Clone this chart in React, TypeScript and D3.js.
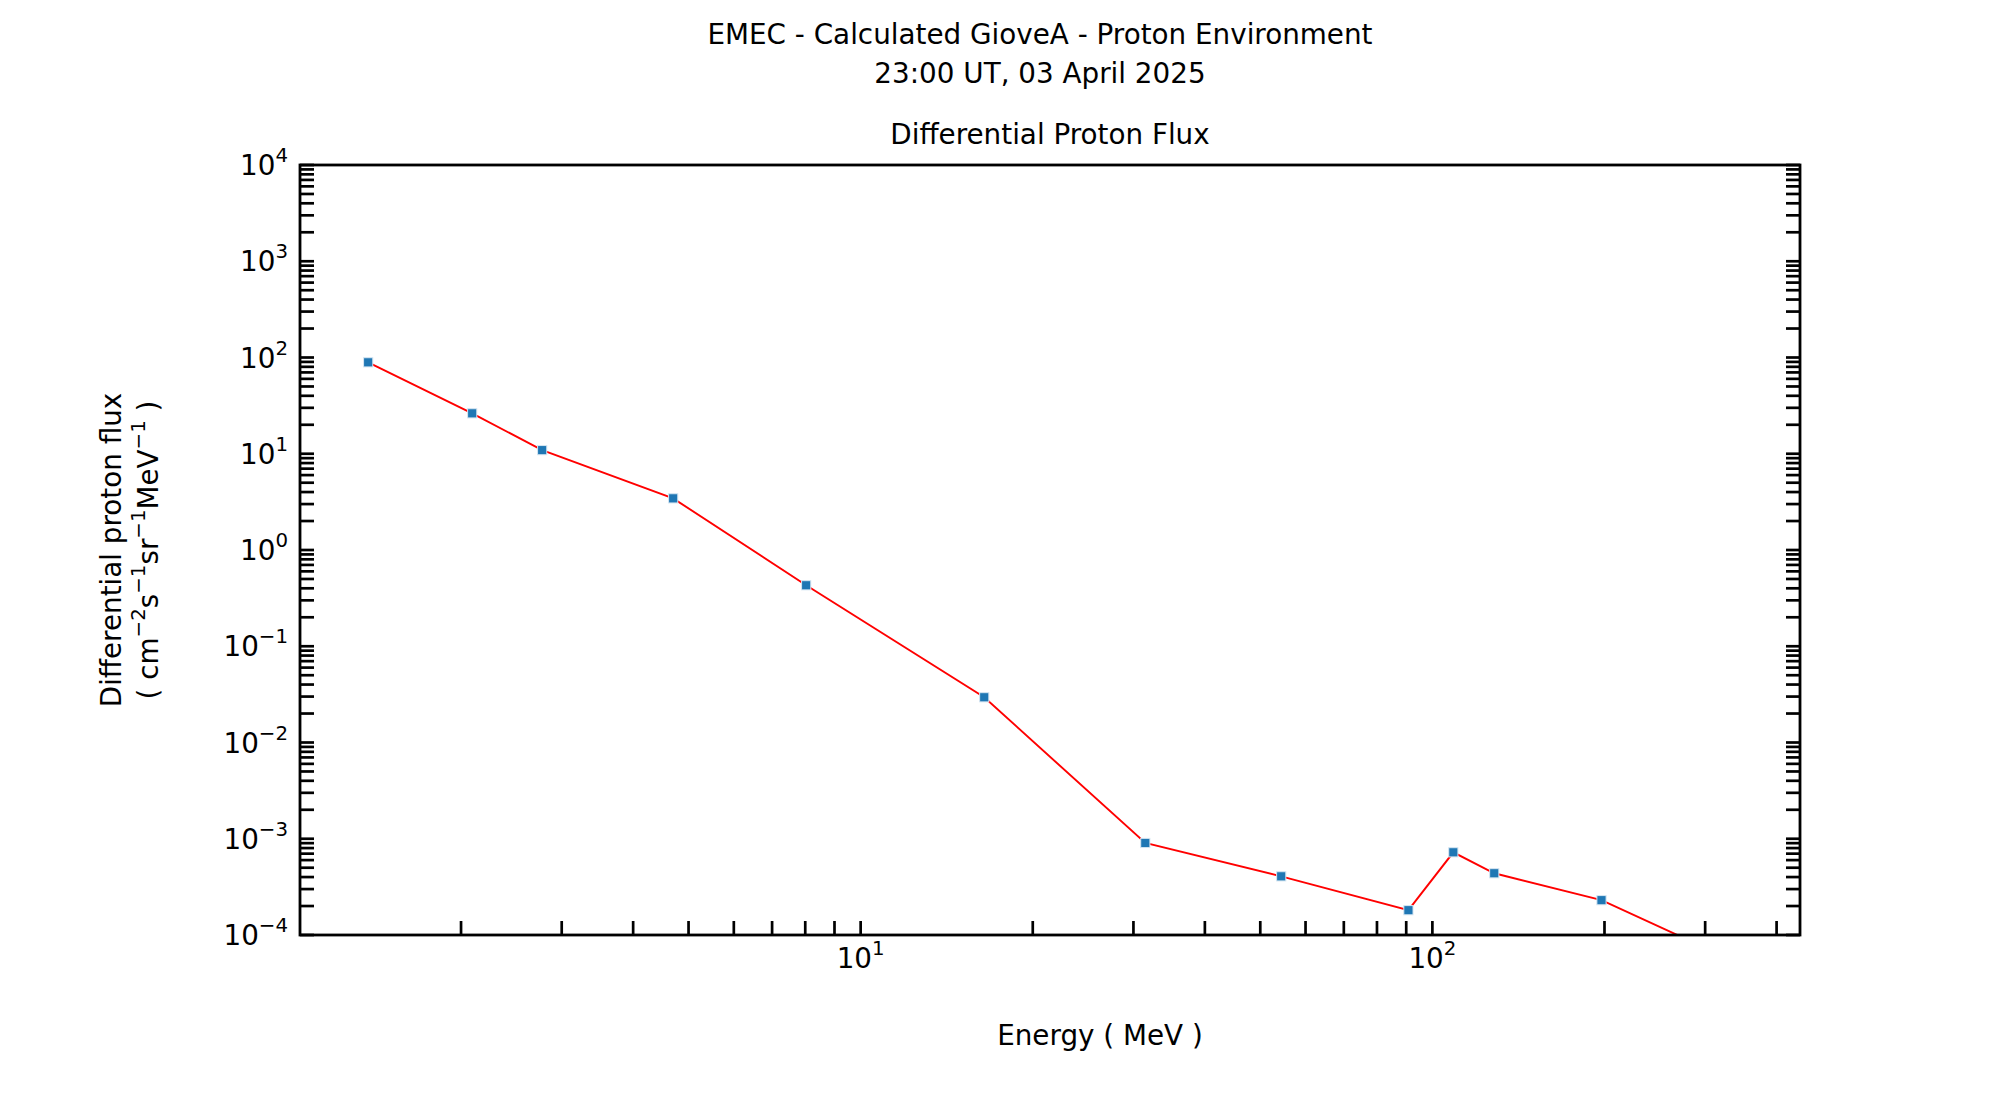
import React, { useEffect, useRef } from 'react';
import * as d3 from 'd3';

// Datos (energía en MeV, flujo diferencial)
const energies = [1.376, 2.092, 2.773, 4.70, 8.03, 16.45, 31.47, 54.4, 90.8, 108.8, 128.3, 197.6, 334];
const fluxes = [89.1, 26.3, 10.9, 3.44, 0.430, 0.0295, 9.04e-4, 4.07e-4, 1.81e-4, 7.23e-4, 4.38e-4, 2.30e-4, 5.5e-5];

// Etiquetas de los ejes (exponentes de 10)
const xTickExps = [1, 2];
const yTickExps = [-4, -3, -2, -1, 0, 1, 2, 3, 4];

const titleLines = ['EMEC - Calculated GioveA - Proton Environment', '23:00 UT, 03 April 2025'];
const axesTitle = 'Differential Proton Flux';
const xLabel = 'Energy ( MeV )';

const FONT = '"DejaVu Sans", "Liberation Sans", sans-serif';

const App: React.FC = () => {
    const ref = useRef<SVGSVGElement>(null);

    useEffect(() => {
        const width = 2000;
        const height = 1100;
        const left = 300;
        const right = 1800;
        const top = 165;
        const bottom = 935;
        const fs = 27.8;
        const supFs = 19.8;
        const tickLen = 14;

        const svg = d3.select(ref.current).attr('width', width).attr('height', height);
        svg.selectAll('*').remove();
        svg.append('rect').attr('width', width).attr('height', height).attr('fill', '#fff');

        // dominio x como matplotlib: 5% de margen en escala log
        const lo = Math.log10(d3.min(energies) || 1);
        const hi = Math.log10(d3.max(energies) || 10);
        const m = (hi - lo) * 0.05;
        const x = d3.scaleLog().domain([10 ** (lo - m), 10 ** (hi + m)]).range([left, right]);
        const y = d3.scaleLog().domain([1e-4, 1e4]).range([bottom, top]);

        svg.append('clipPath').attr('id', 'plotclip')
            .append('rect').attr('x', left).attr('y', top).attr('width', right - left).attr('height', bottom - top);

        // ticks menores y mayores
        const minors = (dom: number[]) => {
            const out: number[] = [];
            const a = Math.floor(Math.log10(dom[0]));
            const b = Math.ceil(Math.log10(dom[1]));
            for (let e = a; e <= b; e++) {
                for (let k = 1; k <= 9; k++) {
                    const v = k * 10 ** e;
                    if (v >= dom[0] * 0.9999 && v <= dom[1] * 1.0001) out.push(v);
                }
            }
            return out;
        };
        const xd = x.domain() as number[];
        const yd = y.domain() as number[];
        const ticks = svg.append('g').attr('stroke', '#000').attr('stroke-width', 2.7);
        minors(xd).forEach((v) => {
            ticks.append('line').attr('x1', x(v)).attr('x2', x(v)).attr('y1', bottom).attr('y2', bottom - tickLen);
        });
        minors(yd).forEach((v) => {
            ticks.append('line').attr('x1', left).attr('x2', left + tickLen).attr('y1', y(v)).attr('y2', y(v));
            ticks.append('line').attr('x1', right).attr('x2', right - tickLen).attr('y1', y(v)).attr('y2', y(v));
        });

        // línea y marcadores
        const pts = energies.map((e, i) => [e, fluxes[i]] as [number, number]);
        const line = d3.line<[number, number]>().x((d) => x(d[0])).y((d) => y(d[1]));
        const plot = svg.append('g').attr('clip-path', 'url(#plotclip)');
        plot.append('path').attr('d', line(pts)).attr('fill', 'none').attr('stroke', '#ff0000').attr('stroke-width', 1.9);
        const ms = 9.2;
        plot.selectAll('rect.mk').data(pts).enter().append('rect')
            .attr('class', 'mk')
            .attr('x', (d) => x(d[0]) - ms / 2)
            .attr('y', (d) => y(d[1]) - ms / 2)
            .attr('width', ms).attr('height', ms)
            .attr('fill', '#1f77b4').attr('stroke', '#d6e6f2').attr('stroke-width', 1);

        // marco
        svg.append('rect').attr('x', left).attr('y', top).attr('width', right - left).attr('height', bottom - top)
            .attr('fill', 'none').attr('stroke', '#000').attr('stroke-width', 2.8);

        // etiquetas de ticks
        const power = (g: d3.Selection<SVGTextElement, unknown, null, undefined>, e: number) => {
            g.append('tspan').text('10');
            g.append('tspan').attr('dy', -13).attr('font-size', supFs).text(e < 0 ? `\u2212${-e}` : `${e}`);
        };
        yTickExps.forEach((e) => {
            const t = svg.append('text').attr('x', left - 12).attr('y', y(10 ** e) + 10)
                .attr('text-anchor', 'end').attr('font-family', FONT).attr('font-size', fs);
            power(t as any, e);
        });
        xTickExps.forEach((e) => {
            const t = svg.append('text').attr('x', x(10 ** e)).attr('y', bottom + 33)
                .attr('text-anchor', 'middle').attr('font-family', FONT).attr('font-size', fs);
            power(t as any, e);
        });

        // títulos
        titleLines.forEach((s, i) => {
            svg.append('text').attr('x', 1040).attr('y', 44 + i * 39).attr('text-anchor', 'middle')
                .attr('font-family', FONT).attr('font-size', fs).text(s);
        });
        svg.append('text').attr('x', (left + right) / 2).attr('y', 144).attr('text-anchor', 'middle')
            .attr('font-family', FONT).attr('font-size', fs).text(axesTitle);
        svg.append('text').attr('x', 1100).attr('y', 1045).attr('text-anchor', 'middle')
            .attr('font-family', FONT).attr('font-size', fs).text(xLabel);

        // etiqueta del eje y (dos líneas, rotada)
        const cy = (top + bottom) / 2;
        svg.append('text').attr('transform', `translate(121,${cy}) rotate(-90)`).attr('text-anchor', 'middle')
            .attr('font-family', FONT).attr('font-size', fs).text('Differential proton flux');
        const yl2 = svg.append('text').attr('transform', `translate(158,${cy}) rotate(-90)`).attr('text-anchor', 'middle')
            .attr('font-family', FONT).attr('font-size', fs);
        const parts: [string, string][] = [['( cm', '\u22122'], ['s', '\u22121'], ['sr', '\u22121'], ['MeV', '\u22121']];
        parts.forEach(([base, sup]) => {
            yl2.append('tspan').attr('dy', base === '( cm' ? 0 : 13).text(base);
            yl2.append('tspan').attr('dy', -13).attr('font-size', supFs).text(sup);
        });
        yl2.append('tspan').attr('dy', 13).text(' )');
    }, []);

    return (
        <div style={{ position: 'absolute', left: 0, top: 0 }}>
            <svg ref={ref}></svg>
        </div>
    );
};

export default App;
